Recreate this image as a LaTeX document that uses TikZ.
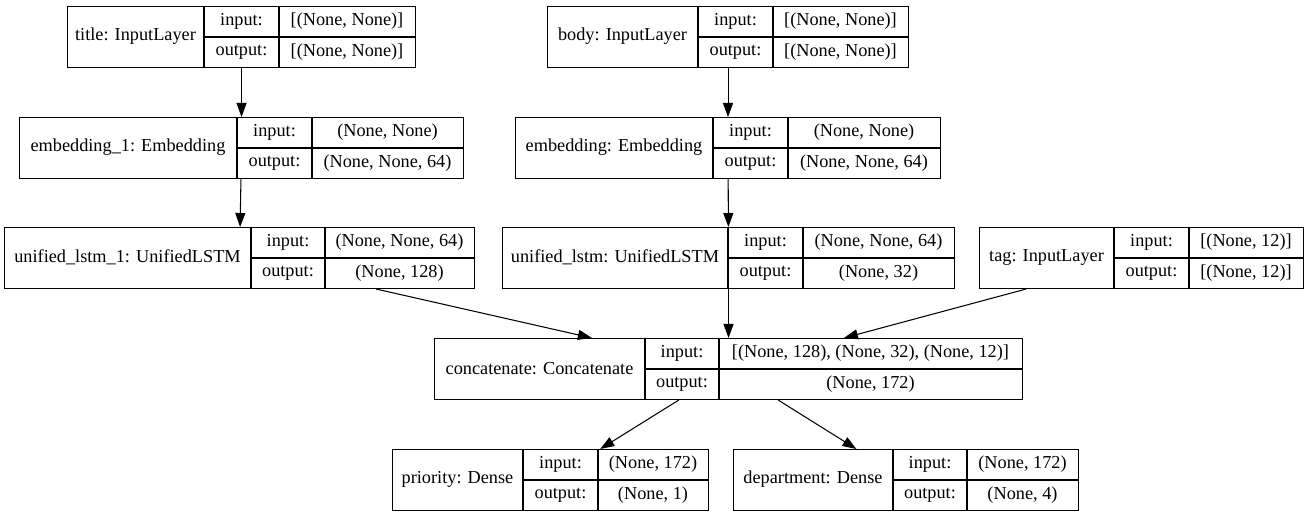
\documentclass[tikz,border=0pt]{standalone}
\usepackage{fontspec}
\setmainfont{Liberation Serif}
\newfontfamily\layerfont{Liberation Serif}
\usepackage{tikz}
\usetikzlibrary{arrows.meta}
\tikzstyle{layerbox}  = [draw,line width=0.6pt,minimum height=1.22cm,inner sep=0pt]
\tikzstyle{grid}      = [line width=0.6pt]
\tikzstyle{txt}       = [inner sep=0pt,font=\layerfont\fontsize{10.4}{12}\selectfont]
\tikzstyle{arrow}     = [line width=0.6pt,-{Triangle[length=0.28cm,width=0.2cm]}]

% id, left, top, right, divider 1, divider 2, name, input, output
\newcommand{\kerasbox}[9]{%
  \node[layerbox,minimum width={(#4-#2)*0.02cm},anchor=north west](#1)at(#2,#3){};
  \draw[grid](#5,#3)--(#5,#3+61);
  \draw[grid](#6,#3)--(#6,#3+61);
  \draw[grid](#5,#3+31)--(#4,#3+31);
  \node[txt](#1-name)at({(#2+#5)/2},#3+30.5){#7};
  \node[txt](#1-inl)at({(#5+#6)/2},#3+15.5){input:};
  \node[txt](#1-outl)at({(#5+#6)/2},#3+46){output:};
  \node[txt](#1-in)at({(#6+#4)/2},#3+15.5){#8};
  \node[txt](#1-out)at({(#6+#4)/2},#3+46){#9};
}

\begin{document}
\begin{tikzpicture}[x=0.02cm,y=-0.02cm]
          \useasboundingbox (0,0) rectangle (1309,516);
          \kerasbox{title}{67}{6}{415}{204}{279}{title: InputLayer}{[(None, None)]}{[(None, None)]}
          \kerasbox{body}{547}{6}{908}{698}{773}{body: InputLayer}{[(None, None)]}{[(None, None)]}
          \kerasbox{emb1}{19}{117}{463}{237}{312}{embedding\_1: Embedding}{(None, None)}{(None, None, 64)}
          \kerasbox{emb}{515}{117}{940}{713}{788}{embedding: Embedding}{(None, None)}{(None, None, 64)}
          \kerasbox{lstm1}{4}{227}{474}{251}{325}{unified\_lstm\_1: UnifiedLSTM}{(None, None, 64)}{(None, 128)}
          \kerasbox{lstm}{502}{227}{954}{728}{803}{unified\_lstm: UnifiedLSTM}{(None, None, 64)}{(None, 32)}
          \kerasbox{tag}{979}{227}{1303}{1114}{1189}{tag: InputLayer}{[(None, 12)]}{[(None, 12)]}
          \kerasbox{concat}{434}{338}{1022}{645}{719}{concatenate: Concatenate}{[(None, 128), (None, 32), (None, 12)]}{(None, 172)}
          \kerasbox{prio}{392}{449}{708}{523}{598}{priority: Dense}{(None, 172)}{(None, 1)}
          \kerasbox{dept}{733}{449}{1078}{893}{967}{department: Dense}{(None, 172)}{(None, 4)}
          \draw[arrow](title)--(emb1);
          \draw[arrow](body)--(emb);
          \draw[arrow](emb1)--(lstm1);
          \draw[arrow](emb)--(lstm);
          \draw[arrow](lstm1)--(concat);
          \draw[arrow](lstm)--(concat);
          \draw[arrow](tag)--(concat);
          \draw[arrow](concat)--(prio);
          \draw[arrow](concat)--(dept);
      \end{tikzpicture}
\end{document}
